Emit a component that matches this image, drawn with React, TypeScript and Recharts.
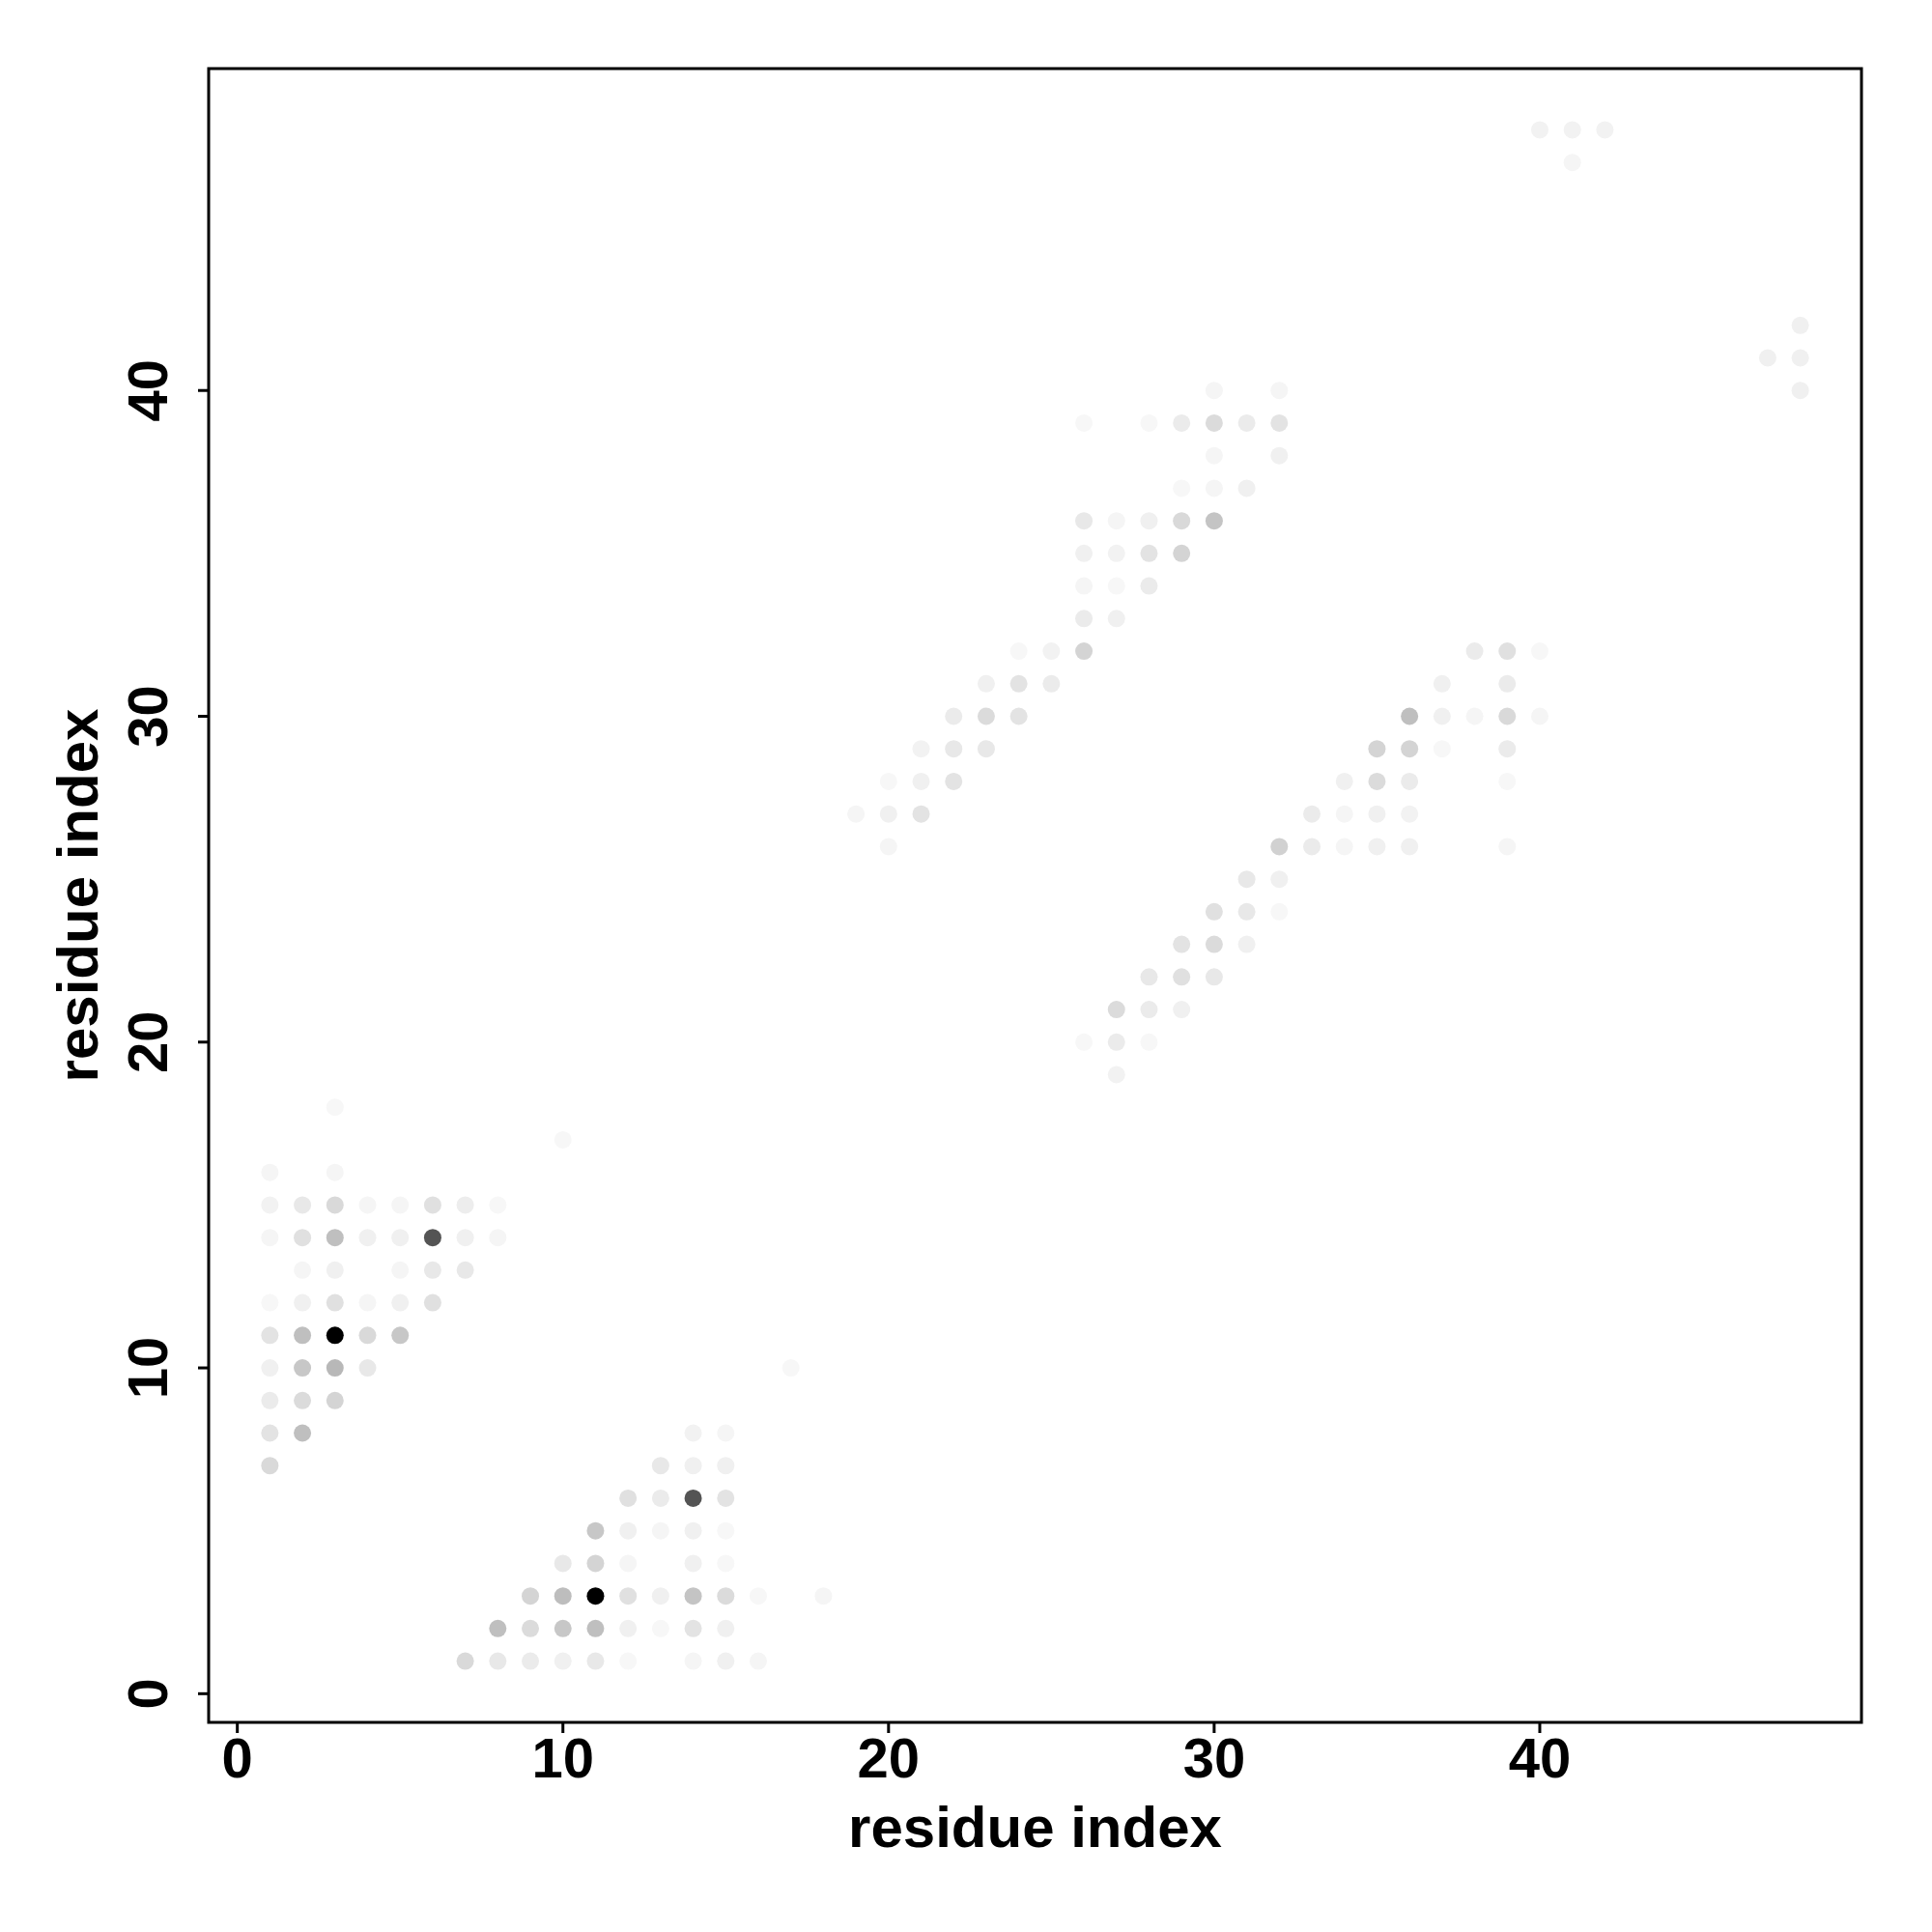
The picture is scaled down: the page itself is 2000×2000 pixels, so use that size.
import { ScatterChart, Scatter, XAxis, YAxis, ReferenceArea, Label } from 'recharts'

// axis ticks and titles
const axisTicks = [0, 10, 20, 30, 40]
const xTitle = 'residue index'
const yTitle = 'residue index'

// contacts: [residue i, residue j, contact frequency (0..1)]
const blockA: [number, number, number][] = [
  [3, 18, 0.03], [10, 17, 0.03],
  [1, 16, 0.04], [3, 16, 0.04],
  [1, 15, 0.05], [2, 15, 0.09], [3, 15, 0.15], [4, 15, 0.04], [5, 15, 0.04], [6, 15, 0.12], [7, 15, 0.07], [8, 15, 0.03],
  [1, 14, 0.04], [2, 14, 0.12], [3, 14, 0.25], [4, 14, 0.06], [5, 14, 0.06], [6, 14, 0.67], [7, 14, 0.06], [8, 14, 0.04],
  [2, 13, 0.04], [3, 13, 0.06], [5, 13, 0.04], [6, 13, 0.09], [7, 13, 0.09],
  [1, 12, 0.03], [2, 12, 0.06], [3, 12, 0.12], [4, 12, 0.04], [5, 12, 0.06], [6, 12, 0.12],
  [1, 11, 0.11], [2, 11, 0.25], [3, 11, 1], [4, 11, 0.15], [5, 11, 0.22],
  [1, 10, 0.06], [2, 10, 0.22], [3, 10, 0.28], [4, 10, 0.09],
  [1, 9, 0.08], [2, 9, 0.14], [3, 9, 0.17],
  [1, 8, 0.11], [2, 8, 0.25],
  [1, 7, 0.15],
]

const blockB: [number, number, number][] = [
  [17, 10, 0.03],
  [14, 8, 0.05], [15, 8, 0.04],
  [13, 7, 0.09], [14, 7, 0.06], [15, 7, 0.06],
  [12, 6, 0.12], [13, 6, 0.08], [14, 6, 0.67], [15, 6, 0.11],
  [11, 5, 0.22], [12, 5, 0.06], [13, 5, 0.04], [14, 5, 0.06], [15, 5, 0.03],
  [10, 4, 0.09], [11, 4, 0.17], [12, 4, 0.04], [14, 4, 0.06], [15, 4, 0.03],
  [9, 3, 0.17], [10, 3, 0.26], [11, 3, 1], [12, 3, 0.12], [13, 3, 0.06], [14, 3, 0.23], [15, 3, 0.14], [16, 3, 0.03], [18, 3, 0.04],
  [8, 2, 0.25], [9, 2, 0.14], [10, 2, 0.22], [11, 2, 0.25], [12, 2, 0.06], [13, 2, 0.03], [14, 2, 0.11], [15, 2, 0.06],
  [7, 1, 0.15], [8, 1, 0.09], [9, 1, 0.08], [10, 1, 0.06], [11, 1, 0.09], [12, 1, 0.03], [14, 1, 0.04], [15, 1, 0.06], [16, 1, 0.04],
]

const blockC: [number, number, number][] = [
  [20, 26, 0.04],
  [19, 27, 0.04], [20, 27, 0.06], [21, 27, 0.11],
  [20, 28, 0.03], [21, 28, 0.06], [22, 28, 0.11],
  [21, 29, 0.05], [22, 29, 0.09], [23, 29, 0.09],
  [22, 30, 0.08], [23, 30, 0.14], [24, 30, 0.11],
  [23, 31, 0.06], [24, 31, 0.11], [25, 31, 0.08],
  [24, 32, 0.03], [25, 32, 0.05], [26, 32, 0.17],
  [26, 33, 0.08], [27, 33, 0.06],
  [26, 34, 0.04], [27, 34, 0.03], [28, 34, 0.08],
  [26, 35, 0.06], [27, 35, 0.05], [28, 35, 0.11], [29, 35, 0.17],
  [26, 36, 0.09], [27, 36, 0.04], [28, 36, 0.06], [29, 36, 0.15], [30, 36, 0.23],
  [29, 37, 0.03], [30, 37, 0.04], [31, 37, 0.06],
  [30, 38, 0.04], [32, 38, 0.06],
  [26, 39, 0.03], [28, 39, 0.03], [29, 39, 0.08], [30, 39, 0.14], [31, 39, 0.08], [32, 39, 0.11],
  [30, 40, 0.04], [32, 40, 0.04],
]

const blockD: [number, number, number][] = [
  [27, 19, 0.05],
  [26, 20, 0.03], [27, 20, 0.08], [28, 20, 0.03],
  [27, 21, 0.14], [28, 21, 0.08], [29, 21, 0.06],
  [28, 22, 0.09], [29, 22, 0.12], [30, 22, 0.09],
  [29, 23, 0.11], [30, 23, 0.14], [31, 23, 0.06],
  [30, 24, 0.12], [31, 24, 0.09], [32, 24, 0.03],
  [31, 25, 0.09], [32, 25, 0.06],
  [32, 26, 0.18], [33, 26, 0.08], [34, 26, 0.04], [35, 26, 0.06], [36, 26, 0.06], [39, 26, 0.04],
  [33, 27, 0.08], [34, 27, 0.04], [35, 27, 0.06], [36, 27, 0.05],
  [34, 28, 0.06], [35, 28, 0.14], [36, 28, 0.08], [39, 28, 0.03],
  [35, 29, 0.17], [36, 29, 0.17], [37, 29, 0.03], [39, 29, 0.08],
  [36, 30, 0.25], [37, 30, 0.06], [38, 30, 0.04], [39, 30, 0.15], [40, 30, 0.04],
  [37, 31, 0.06], [39, 31, 0.08],
  [38, 32, 0.08], [39, 32, 0.12], [40, 32, 0.03],
]

const blockE: [number, number, number][] = [
  [40, 48, 0.05], [41, 48, 0.05], [42, 48, 0.05], [41, 47, 0.04],
  [48, 42, 0.06], [47, 41, 0.06], [48, 41, 0.06], [48, 40, 0.06],
]

const contacts = [...blockA, ...blockB, ...blockC, ...blockD, ...blockE].map(([i, j, f]) => ({ i, j, f }))

// R style 4% padding around the data range
const allIdx = contacts.flatMap((c) => [c.i, c.j])
const lo = Math.min(...allIdx)
const hi = Math.max(...allIdx)
const pad = (hi - lo) * 0.04
const domain: [number, number] = [lo - pad, hi + pad]

const FONT = '"Liberation Sans", Arial, Helvetica, sans-serif'

const Dot = (props: any) => {
  const { cx, cy, payload } = props
  const g = Math.round(255 * (1 - payload.f))
  return <circle cx={cx} cy={cy} r={9} fill={`rgb(${g},${g},${g})`} />
}

const YTick = ({ x, y, payload }: any) => (
  <text
    transform={`translate(${x},${y}) rotate(-90)`}
    textAnchor="middle"
    fontFamily={FONT}
    fontWeight="bold"
    fontSize={58}
    fill="#000"
  >
    {payload.value}
  </text>
)

export default function App() {
  return (
    <div style={{ position: 'absolute', left: 0, top: 0, width: 2000, height: 2000, background: '#fff' }}>
      <ScatterChart width={2000} height={2000} margin={{ top: 71, right: 73, bottom: 0, left: 0 }}>
        <XAxis
          type="number"
          dataKey="i"
          domain={domain}
          allowDataOverflow
          ticks={axisTicks}
          interval={0}
          height={217}
          axisLine={false}
          tickLine={{ stroke: '#000', strokeWidth: 3 }}
          tickSize={11}
          tickMargin={5}
          tick={{ fontSize: 58, fontWeight: 'bold', fill: '#000', fontFamily: FONT }}
        >
          <Label
            content={({ viewBox }: any) => (
              <text
                x={viewBox.x + viewBox.width / 2}
                y={viewBox.y + 129}
                textAnchor="middle"
                fontFamily={FONT}
                fontWeight="bold"
                fontSize={60}
                fill="#000"
              >
                {xTitle}
              </text>
            )}
          />
        </XAxis>
        <YAxis
          type="number"
          dataKey="j"
          domain={domain}
          allowDataOverflow
          ticks={axisTicks}
          interval={0}
          width={216}
          axisLine={false}
          tickLine={{ stroke: '#000', strokeWidth: 3 }}
          tickSize={11}
          tickMargin={32}
          tick={<YTick />}
        >
          <Label
            content={({ viewBox }: any) => (
              <text
                transform={`translate(${viewBox.x + 101},${viewBox.y + viewBox.height / 2}) rotate(-90)`}
                textAnchor="middle"
                fontFamily={FONT}
                fontWeight="bold"
                fontSize={60}
                fill="#000"
              >
                {yTitle}
              </text>
            )}
          />
        </YAxis>
        <Scatter data={contacts} shape={Dot} isAnimationActive={false} />
        <ReferenceArea
          x1={domain[0]}
          x2={domain[1]}
          y1={domain[0]}
          y2={domain[1]}
          ifOverflow="visible"
          fill="none"
          fillOpacity={0}
          stroke="#000"
          strokeWidth={3}
        />
      </ScatterChart>
    </div>
  )
}
